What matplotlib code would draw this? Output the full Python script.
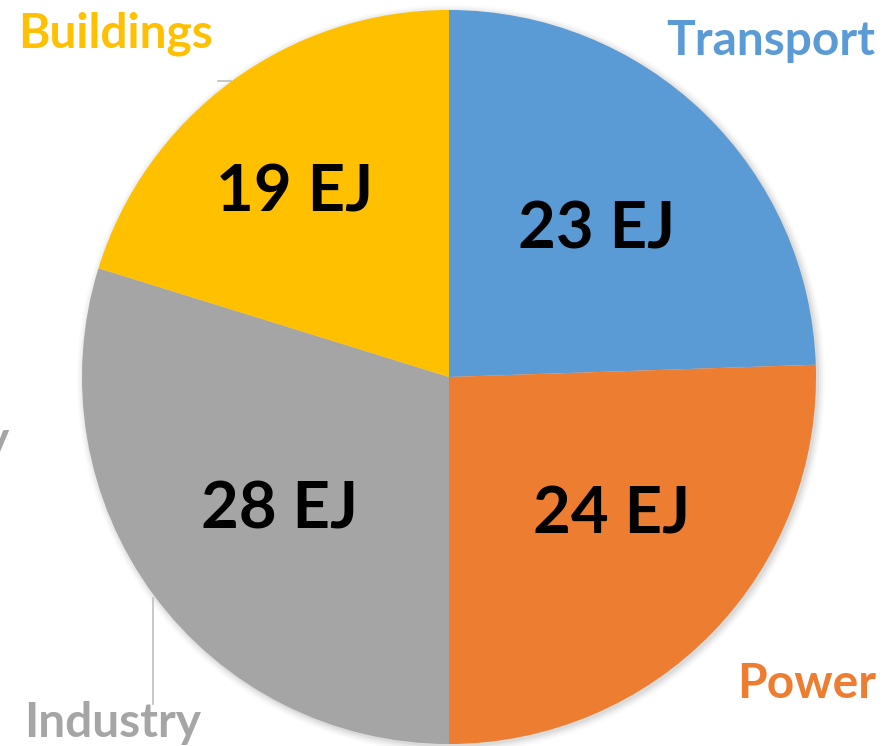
import matplotlib
matplotlib.use('Agg')
import matplotlib.pyplot as plt
from matplotlib.patches import Circle

# data
sectors = ['Transport', 'Power', 'Industry', 'Buildings']
energy_ej = [23, 24, 28, 19]
colors = ['#5B9BD5', '#ED7D31', '#A5A5A5', '#FFC000']

plt.rcParams['font.family'] = ['Lato', 'DejaVu Sans']

W, H = 895, 746
fig = plt.figure(figsize=(W / 100, H / 100), dpi=100)
ax = fig.add_axes([0, 0, 1, 1])

cx, cy, r = 449, H - 377, 367

# soft shadow
for i, a in enumerate([0.05, 0.04, 0.03, 0.02]):
    ax.add_patch(Circle((cx + 2, cy - 2), r + 1 + 2 * i, color='black',
                        alpha=a, lw=0, zorder=0))

wedges, _ = ax.pie(energy_ej, colors=colors, startangle=90, counterclock=False,
                   center=(cx, cy), radius=r, frame=True,
                   wedgeprops=dict(linewidth=0))
for w in wedges:
    w.set_zorder(2)
ax.set_xlim(0, W)
ax.set_ylim(0, H)
ax.set_aspect('equal')
ax.axis('off')

# value labels inside slices
value_pos = [(597, 230), (612, 515), (280, 510), (295, 193)]
for (x, y), v in zip(value_pos, energy_ej):
    ax.text(x, H - y, '%d EJ' % v, fontsize=47, fontweight='bold',
            ha='center', va='center', color='black', zorder=5)

# category labels
label_pos = [(771, 55), (807, 698), (113, 737), (116, 47)]
for (x, y), name, c in zip(label_pos, sectors, colors):
    ax.text(x, H - y, name, fontsize=34.5, fontweight='bold', ha='center',
            va='baseline', color=c, zorder=5)

# leader lines
ax.plot([153, 153], [H - 598, H - 704], color='#BFBFBF', lw=1.2, zorder=1)
ax.plot([218, 231], [H - 81, H - 81], color='#BFBFBF', lw=1.2, zorder=1)

# clipped label at the left edge (as in the original)
ax.text(9, H - 455, 'y', fontsize=34.5, fontweight='bold', ha='right',
        va='baseline', color='#A5A5A5')

fig.savefig('out.png', dpi=100)
